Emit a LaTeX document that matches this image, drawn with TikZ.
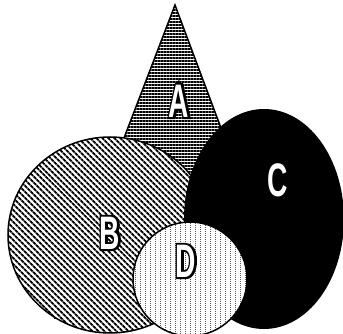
\documentclass[tikz,border=0pt]{standalone}
\usepackage{fontspec}
\setmainfont{Liberation Sans}
\newfontfamily\letterfont{Liberation Sans}[FakeStretch=0.6]
\usetikzlibrary{patterns,patterns.meta}

% white letter with a black outline
\newcommand{\outlined}[1]{\makebox[0pt][l]{\color{black}\special{pdf:literal direct 2 Tr 4 w 0 G}#1\special{pdf:literal direct 0 Tr}}{\color{white}#1}}

% dotted vertical columns for D
\pgfdeclarepatternformonly{dotted columns}{\pgfpointorigin}{\pgfqpoint{5pt}{2pt}}{\pgfqpoint{5pt}{2pt}}{%
  \pgfpathrectangle{\pgfpointorigin}{\pgfqpoint{1pt}{1pt}}\pgfusepath{fill}}

\begin{document}
\begin{tikzpicture}[x=1pt,y=-1pt,
    setshape/.style={draw=black, line width=1.5pt, preaction={fill=white}},
    letter/.style={font=\letterfont\bfseries\fontsize{47}{47}\selectfont, inner sep=0pt}]
            \useasboundingbox (0,0) rectangle (343,334);

            % Set A - triangle
            \draw[setshape, pattern={Lines[angle=0,distance=3pt,line width=1.5pt]}]
                (175,5) -- (292,318) -- (55,318) -- cycle;

            % Set B - ellipse
            \draw[setshape, pattern={Lines[angle=-45,distance=4pt,line width=2pt]}]
                (110,235) ellipse [x radius=102, y radius=98];

            % Set C - black ellipse
            \fill[black] (264,219) ellipse [x radius=80, y radius=110];

            % Set D - circle
            \draw[setshape, pattern=dotted columns] (190,279) circle [radius=57];

            % Labels
            \node[letter] (labA) at (179,101) {\outlined{A}};
            \node[letter] (labB) at (110,233) {\outlined{B}};
            \node[letter, text=white] (labC) at (278,180) {C};
            \node[letter] (labD) at (186,261) {\outlined{D}};
        \end{tikzpicture}
\end{document}
